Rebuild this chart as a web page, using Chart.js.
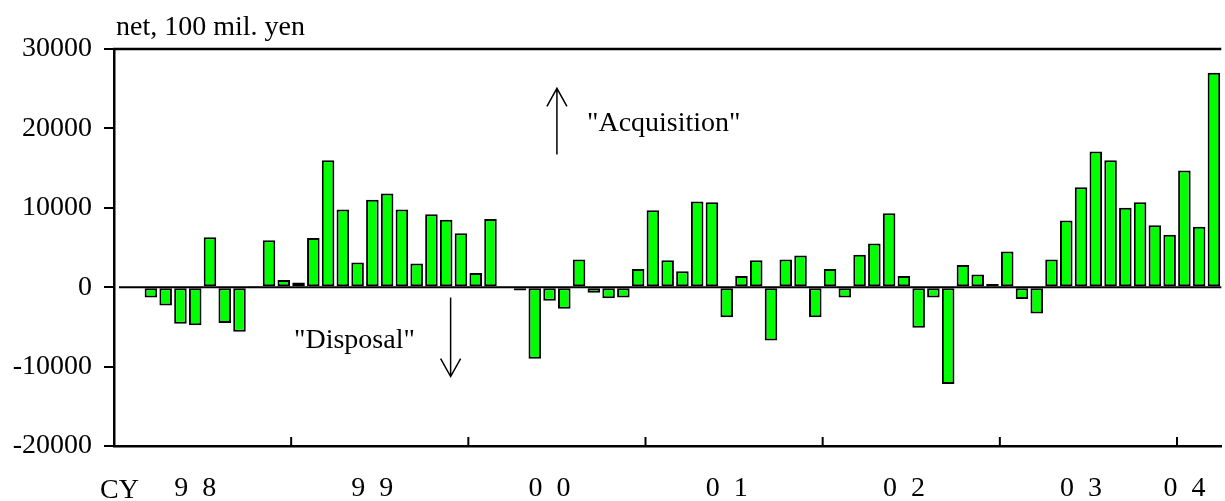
<!DOCTYPE html>
<html>
<head>
<meta charset="utf-8">
<script src="https://cdn.jsdelivr.net/npm/chart.js@4.4.1/dist/chart.umd.min.js"></script>
<style>
  html, body { margin: 0; padding: 0; background: #ffffff; overflow: hidden; }
  #wrap { width: 1240px; height: 501px; position: relative; }
</style>
</head>
<body>
<div id="wrap"><canvas id="chart" width="1240" height="501"></canvas></div>
<script>
// Monthly categories, Jan 1998 – Mar 2004
const months = [];
for (let y = 1998; y <= 2004; y++) {
  for (let m = 1; m <= 12; m++) {
    if (y === 2004 && m > 3) break;
    months.push(y + '-' + String(m).padStart(2, '0'));
  }
}

// Net acquisition (+) / disposal (-), 100 mil. yen
const netFlow = [
  null, null, -1300, -2300, -4600, -4800, 6300, -4500, -5600, 50, 5900, 900,          // 1998
  600, 6200, 16000, 9800, 3100, 11000, 11800, 9800, 3000, 9200, 8500, 6800,          // 1999
  1800, 8600, 150, -400, -9000, -1700, -2700, 3500, -700, -1400, -1300, 2300,        // 2000
  9700, 3400, 2000, 10800, 10700, -3800, 1400, 3400, -6700, 3500, 4000, -3800,       // 2001
  2300, -1300, 4100, 5500, 9300, 1400, -5100, -1300, -12200, 2800, 1600, 400,        // 2002
  4500, -1500, -3300, 3500, 8400, 12600, 17100, 16000, 10000, 10700, 7800, 6600,     // 2003
  14700, 7600, 27000                                                                 // 2004
];

// Year labels along the bottom axis and the month each one sits under
const yearLabelMonths = ['1998-06', '1999-06', '2000-06', '2001-06', '2002-06', '2003-06', '2004-01'];
const yearLabels = ['9  8', '9  9', '0  0', '0  1', '0  2', '0  3', '0  4'];

// Value axis
const yMin = -20000;
const yMax = 30000;
const yStep = 10000;

const FONT = { family: "'Liberation Serif', 'Times New Roman', serif", size: 28 };

const frame = {
  id: 'frame',
  beforeDatasetsDraw(chart) {
    const { ctx, chartArea: a, scales: { y } } = chart;
    const y0 = y.getPixelForValue(0);
    ctx.save();
    ctx.strokeStyle = '#000';
    ctx.lineWidth = 2;
    ctx.beginPath();
    ctx.moveTo(a.left + 5, y0);
    ctx.lineTo(a.right, y0);
    ctx.stroke();
    ctx.restore();
  },
  afterDraw(chart) {
    const { ctx, chartArea: a, scales: { x, y } } = chart;
    ctx.save();
    ctx.strokeStyle = '#000';
    ctx.fillStyle = '#000';

    // top frame line
    ctx.lineWidth = 2.5;
    ctx.beginPath();
    ctx.moveTo(a.left - 1, a.top);
    ctx.lineTo(a.right, a.top);
    ctx.stroke();

    // year boundary ticks pointing into the plot
    const half = (x.getPixelForValue(1) - x.getPixelForValue(0)) / 2;
    ctx.lineWidth = 2;
    months.forEach((m, i) => {
      if (i > 0 && m.endsWith('-01')) {
        const px = x.getPixelForValue(i) - half;
        ctx.beginPath();
        ctx.moveTo(px, a.bottom);
        ctx.lineTo(px, a.bottom - 9);
        ctx.stroke();
      }
    });

    // texts
    ctx.font = FONT.size + 'px ' + FONT.family;
    ctx.textBaseline = 'alphabetic';
    ctx.textAlign = 'left';
    ctx.fillText('net, 100 mil. yen', a.left + 2, 35);
    ctx.fillText('CY', 100, 498);

    // arrows
    const arrow = (xv, fromV, toV) => {
      const px = x.getPixelForValue(xv);
      const p1 = y.getPixelForValue(fromV);
      const p2 = y.getPixelForValue(toV);
      const dir = p2 < p1 ? 1 : -1;
      ctx.lineWidth = 1.5;
      ctx.beginPath();
      ctx.moveTo(px, p1);
      ctx.lineTo(px, p2);
      ctx.moveTo(px - 10, p2 + dir * 18);
      ctx.lineTo(px, p2);
      ctx.lineTo(px + 10, p2 + dir * 18);
      ctx.stroke();
    };
    arrow(29.5, 16700, 25050);
    ctx.fillText('"Acquisition"', 587, 131);
    arrow(22.3, -1300, -11250);
    ctx.fillText('"Disposal"', 294, 348);

    ctx.restore();
  }
};

new Chart(document.getElementById('chart'), {
  type: 'bar',
  data: {
    labels: months,
    datasets: [{
      data: netFlow,
      backgroundColor: '#00ff00',
      borderColor: '#000000',
      borderWidth: 2,
      borderSkipped: false,
      barPercentage: 0.85,
      categoryPercentage: 1.0
    }]
  },
  options: {
    responsive: false,
    animation: false,
    devicePixelRatio: 1,
    layout: { padding: { top: 49, right: 12, left: 0, bottom: 0 } },
    plugins: { legend: { display: false }, tooltip: { enabled: false } },
    scales: {
      x: {
        type: 'category',
        offset: true,
        grid: { display: false, drawTicks: false },
        border: { display: true, color: '#000', width: 2.5 },
        ticks: {
          autoSkip: false,
          maxRotation: 0,
          minRotation: 0,
          padding: 26,
          color: '#000',
          font: FONT,
          callback: (v, i) => {
            const k = yearLabelMonths.indexOf(months[i]);
            return k >= 0 ? yearLabels[k] : '';
          }
        },
        afterFit: (s) => { s.height = 55; }
      },
      y: {
        min: yMin,
        max: yMax,
        grid: { display: true, drawOnChartArea: false, drawTicks: true, tickLength: 10, color: '#000', lineWidth: 2 },
        border: { display: true, color: '#000', width: 2.5 },
        ticks: {
          stepSize: yStep,
          padding: 12,
          color: '#000',
          font: FONT,
          callback: (v) => String(v)
        },
        afterFit: (s) => { s.width = 114; }
      }
    }
  },
  plugins: [frame]
});
</script>
</body>
</html>
